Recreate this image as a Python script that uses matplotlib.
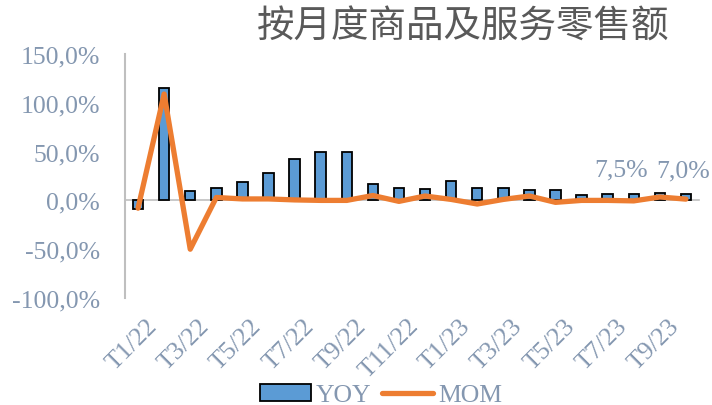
import matplotlib
matplotlib.use("Agg")
import matplotlib.pyplot as plt
import matplotlib.transforms as mtransforms
import numpy as np
from matplotlib.ticker import FuncFormatter

months = ["T1/22", "T2/22", "T3/22", "T4/22", "T5/22", "T6/22", "T7/22", "T8/22",
          "T9/22", "T10/22", "T11/22", "T12/22", "T1/23", "T2/23", "T3/23", "T4/23",
          "T5/23", "T6/23", "T7/23", "T8/23", "T9/23", "T10/23"]
yoy = [-8.5, 115.0, 10.0, 12.5, 19.0, 28.0, 42.0, 50.0, 50.0, 17.0, 13.0, 12.0,
       20.0, 12.5, 13.0, 11.0, 11.0, 6.0, 6.5, 7.0, 7.5, 7.0]
mom = [-8.0, 109.0, -50.0, 3.0, 1.5, 1.5, 0.5, 0.0, 0.0, 5.0, -1.0, 4.5,
       1.0, -3.7, 1.0, 4.5, -2.0, 0.0, 0.0, -0.5, 3.5, 1.3]
yticks = [-100, -50, 0, 50, 100, 150]
title = "按月度商品及服务零售额"

txt_color = "#8497B0"
serif = ["Liberation Serif", "DejaVu Serif"]
fs = 18.5

fig = plt.figure(figsize=(7.12, 4.06), dpi=100)
ax = fig.add_axes([125/712, 1-299/406, (699-125)/712, (299-55)/406])

x = np.arange(len(months))
bars = ax.bar(x, yoy, width=0.4, color="#5B9BD5", edgecolor="black", linewidth=1.3,
              label="YOY", zorder=2)
line, = ax.plot(x, mom, color="#ED7D31", linewidth=3.8, solid_joinstyle="round",
                solid_capstyle="round", label="MOM", zorder=3)

ax.set_xlim(-0.5, len(months)-0.5)
ax.set_ylim(-100, 150)
ax.set_yticks(yticks)
ax.yaxis.set_major_formatter(FuncFormatter(lambda v, p: f"{v:.1f}%".replace(".", ",")))
ax.set_xticks(x)

for s in ["top", "right"]:
    ax.spines[s].set_visible(False)
ax.spines["bottom"].set_position(("data", 0))
ax.spines["bottom"].set_color("#BFBFBF")
ax.spines["bottom"].set_linewidth(1.2)
ax.spines["bottom"].set_zorder(1)
ax.spines["left"].set_color("#BFBFBF")
ax.spines["left"].set_linewidth(1.5)

ax.tick_params(axis="both", length=0, labelcolor=txt_color, labelsize=fs)
ax.tick_params(axis="y", pad=18)
ax.tick_params(axis="x", pad=82)
ax.set_xticklabels([m if i % 2 == 0 else "" for i, m in enumerate(months)],
                   rotation=45, ha="right", va="top", rotation_mode="anchor")
shift = mtransforms.ScaledTranslation(8/100, 0, fig.dpi_scale_trans)
for lab in ax.get_xticklabels():
    lab.set_family(serif)
    lab.set_transform(lab.get_transform() + shift)
for lab in ax.get_yticklabels():
    lab.set_family(serif)

# data labels on the last two bars
ax.annotate(f"{yoy[-2]:.1f}%".replace(".", ","), xy=(x[-2], yoy[-2]), xytext=(-28, 17),
            textcoords="offset points", ha="center", va="center", fontsize=fs,
            color=txt_color, family=serif)
ax.annotate(f"{yoy[-1]:.1f}%".replace(".", ","), xy=(x[-1], yoy[-1]), xytext=(-2, 17),
            textcoords="offset points", ha="center", va="center", fontsize=fs,
            color=txt_color, family=serif)

fig.text(463/712, 1-27/406, title, ha="center", va="center", fontsize=27,
         color="#595959", family=["Noto Sans CJK SC", "DejaVu Sans"])

leg = fig.legend(handles=[bars, line], labels=["YOY", "MOM"], loc="center",
                 bbox_to_anchor=(381/712, 1-396/406), ncol=2, frameon=False,
                 prop={"family": serif, "size": fs}, handlelength=2.0,
                 handletextpad=0.2, columnspacing=0.4, borderaxespad=0)
for t in leg.get_texts():
    t.set_color(txt_color)

fig.savefig("out.png", dpi=100)
